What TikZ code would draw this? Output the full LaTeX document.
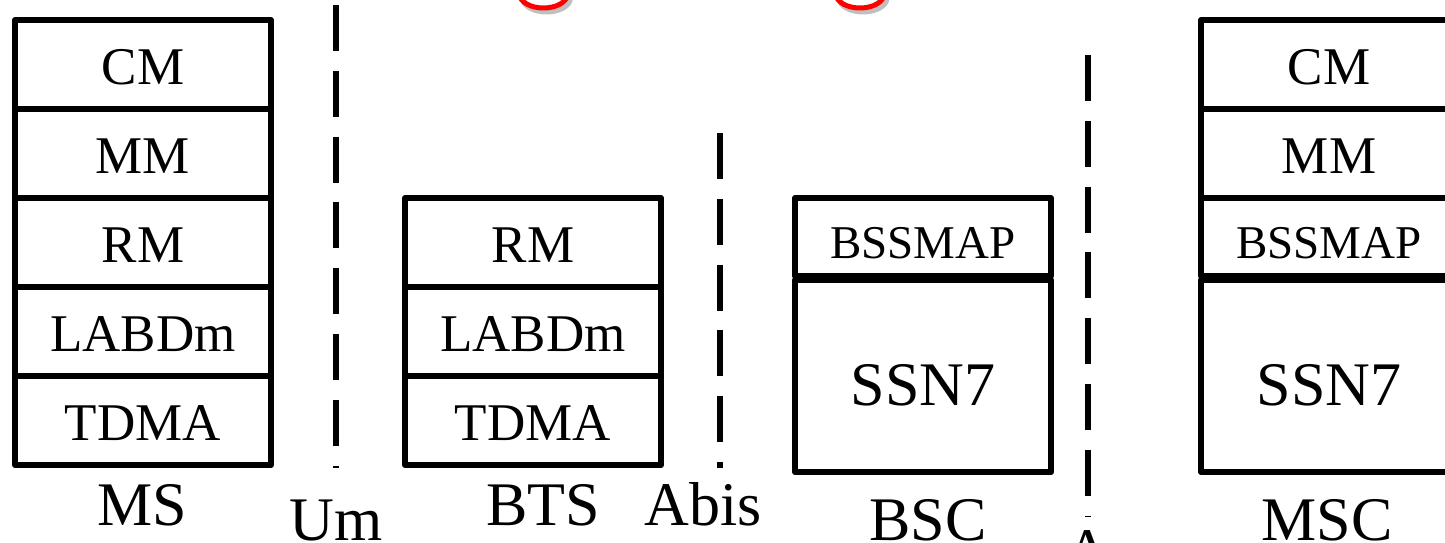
\documentclass[tikz,border=0pt]{standalone}
\usepackage{fontspec}
\setmainfont{Liberation Serif}
\begin{document}
\begin{tikzpicture}[x=1pt,y=-1pt,line join=round,
  layer/.style={draw,line width=6pt,inner sep=0pt,minimum width=256pt,
    minimum height=89pt,text height=40pt,text depth=0pt,
    font=\fontsize{53}{60}\selectfont},
  maplayer/.style={layer,minimum height=78pt,text height=42pt,
    font=\fontsize{47}{54}\selectfont},
  ssnlayer/.style={layer,minimum height=192pt,text height=58pt,
    font=\fontsize{62}{70}\selectfont},
  caption/.style={anchor=base,inner sep=0pt,font=\fontsize{62}{70}\selectfont},
  iface/.style={line width=6pt,dash pattern=on 46pt off 19.8pt},
  glyph/.style={red,line width=5pt},
  glyphshadow/.style={black!25,line width=5pt}]
\useasboundingbox (0,0) rectangle (1445,543);
\clip (0,0) rectangle (1445,543);

% red heading, only its lowest strokes fall inside the frame
\draw[glyphshadow] (570.5,-2) arc[start angle=0,end angle=180,x radius=24,y radius=14];
\draw[glyphshadow] (887,-2) arc[start angle=0,end angle=180,x radius=24,y radius=14];
\draw[glyph] (567.5,-6) arc[start angle=0,end angle=180,x radius=24,y radius=14];
\draw[glyph] (884,-6) arc[start angle=0,end angle=180,x radius=24,y radius=14];

% MS stack
\node[layer] (mscm) at (143,64.5) {CM};
\node[layer] (msmm) at (143,153.5) {MM};
\node[layer] (msrm) at (143,242.5) {RM};
\node[layer] (mslapd) at (143,331.5) {LABDm};
\node[layer] (mstdma) at (143,420.5) {TDMA};
\node[caption] (mslabel) at (142,525) {MS};

% BTS stack
\node[layer] (btsrm) at (533,242.5) {RM};
\node[layer] (btslapd) at (533,331.5) {LABDm};
\node[layer] (btstdma) at (533,420.5) {TDMA};
\node[caption] (btslabel) at (543,525) {BTS};

% BSC stack
\node[maplayer] (bscmap) at (923,237) {BSSMAP};
\node[ssnlayer] (bscssn) at (923,376) {SSN7};
\node[caption] (bsclabel) at (928,540) {BSC};

% MSC stack
\node[layer] (msccm) at (1329,64.5) {CM};
\node[layer] (mscmm) at (1329,153.5) {MM};
\node[maplayer] (mscmap) at (1329,237) {BSSMAP};
\node[ssnlayer] (mscssn) at (1329,376) {SSN7};
\node[caption] (msclabel) at (1327,540) {MSC};

% interfaces
\coordinate (umtop) at (336,5);
\coordinate (umbot) at (336,468);
\draw[iface] (umtop) -- (umbot);
\node[caption] (umlabel) at (336,540) {Um};

\coordinate (abistop) at (720,133);
\coordinate (abisbot) at (720,468);
\draw[iface] (abistop) -- (abisbot);
\node[caption] (abislabel) at (703,525) {Abis};

\coordinate (atop) at (1088,55);
\coordinate (abot) at (1088,517);
\draw[iface] (atop) -- (abot);
\node[caption] (alabel) at (1088,571) {A};
\end{tikzpicture}
\end{document}
